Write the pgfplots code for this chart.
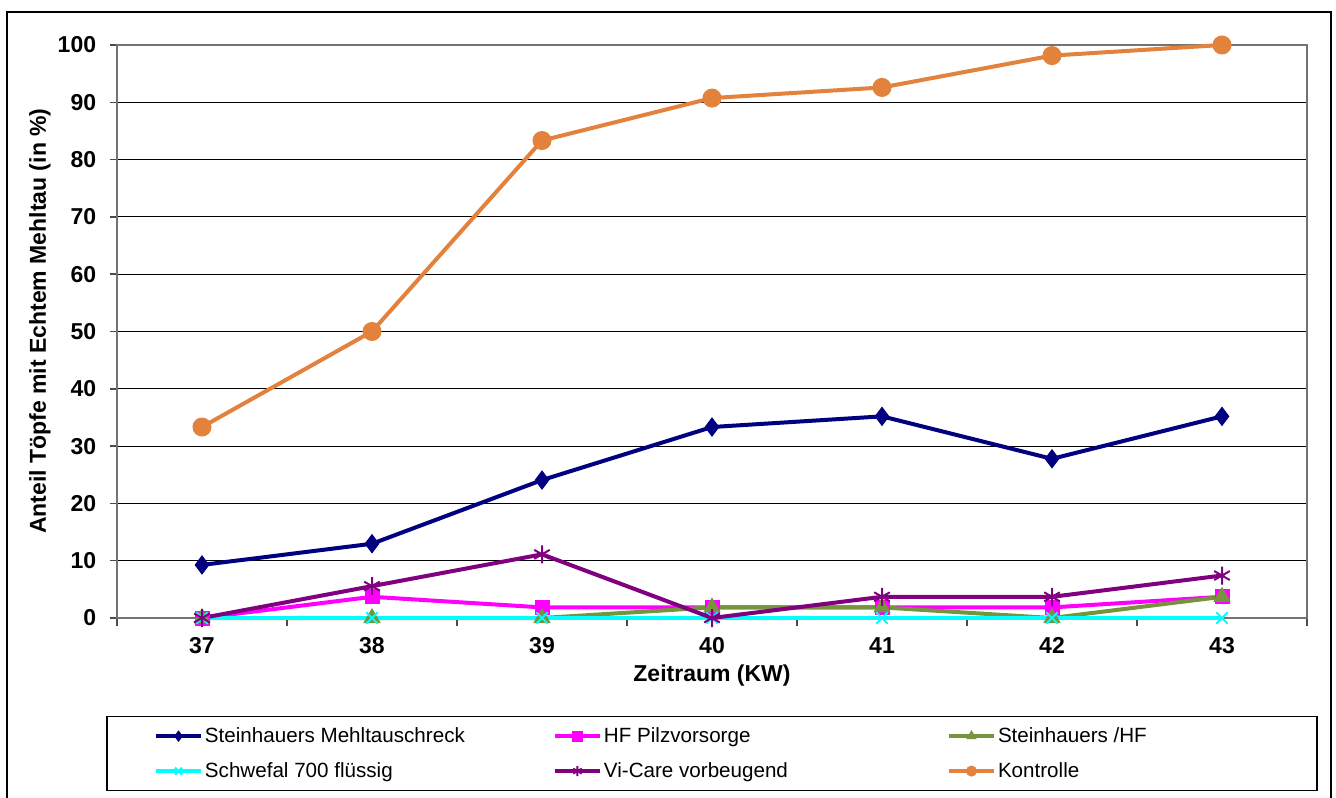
\documentclass[border=0pt]{standalone}
\usepackage{pgfplots}
\pgfplotsset{compat=1.18}
\usepackage{fontspec}
\setmainfont{Liberation Sans}
\definecolor{cNavy}{RGB}{0,0,128}
\definecolor{cMag}{RGB}{255,0,255}
\definecolor{cOlive}{RGB}{119,147,60}
\definecolor{cCyan}{RGB}{0,255,255}
\definecolor{cPurp}{RGB}{128,0,128}
\definecolor{cOrange}{RGB}{227,130,61}
\begin{document}
\begin{tikzpicture}
\useasboundingbox (-58.5pt,-89.5pt) rectangle (609.5pt,309pt);
\fill[white] (-58.5pt,-89.5pt) rectangle (609.5pt,309pt);
\draw[black, line width=0.75pt] (-55pt,-95pt) rectangle (607pt,303pt);
\begin{axis}[
  at={(0,0)}, anchor=south west,
  scale only axis, width=595pt, height=286.5pt,
  xmin=36.5, xmax=43.5, ymin=0, ymax=100,
  xtick={37,...,43},
  minor xtick={36.5,37.5,...,43.5},
  ytick={0,10,...,100},
  every major x tick/.append style={draw=none},
  ymajorgrids, grid style={black, line width=0.5pt},
  axis line style={draw=black!55, line width=0.75pt},
  tick style={draw=black!70, line width=0.75pt},
  major tick length=3.75pt, minor tick length=3.75pt,
  tick pos=left, tick align=outside,
  /pgf/number format/assume math mode=true,
  ticklabel style={font=\bfseries\fontsize{11.5}{13}\selectfont, inner sep=0pt},
  yticklabel style={anchor=east, xshift=-6.5pt},
  xticklabel style={anchor=north, yshift=-6pt},
  xlabel={Zeitraum (KW)},
  ylabel={Anteil Töpfe mit Echtem Mehltau (in \%)},
  label style={font=\bfseries\fontsize{11.5}{13}\selectfont},
  xlabel style={at={(axis description cs:0.5,-0.1012)}, anchor=center},
  ylabel style={at={(axis description cs:-0.0647,0.518)}, anchor=center},
  clip=false,
  every axis plot/.append style={line width=2pt},
  legend columns=3,
  legend image code/.code={\draw[mark repeat=2,mark phase=2,mark size=2.5pt] plot coordinates {(0pt,0pt) (11.25pt,0pt) (22.5pt,0pt)};},
  legend style={at={(0.5,-0.171)}, anchor=north, draw=black, line width=0.6pt,
    inner xsep=23.5pt, inner ysep=1pt, row sep=0pt,
    font=\fontsize{10.3}{12}\selectfont,
    nodes={inner sep=1pt, anchor=west, minimum height=17.5pt},
    /tikz/every even column/.style={column sep=0pt},
    /tikz/every odd column/.style={column sep=0pt}},
]
\addplot[cNavy, mark=diamond*, mark size=4.5pt, mark options={line width=0.5pt}] coordinates {(37,9.26)(38,12.96)(39,24.07)(40,33.33)(41,35.19)(42,27.78)(43,35.19)};
\addlegendentry{\makebox[173pt][l]{Steinhauers Mehltauschreck}}
\addplot[cMag, mark=square*, mark size=3.5pt, mark options={line width=0.5pt}] coordinates {(37,0)(38,3.70)(39,1.85)(40,1.85)(41,1.85)(42,1.85)(43,3.70)};
\addlegendentry{\makebox[170.5pt][l]{HF Pilzvorsorge}}
\addplot[cOlive, mark=triangle*, mark size=4.5pt, mark options={line width=0.5pt}] coordinates {(37,0)(38,0)(39,0)(40,1.85)(41,1.85)(42,0)(43,3.70)};
\addlegendentry{\makebox[135pt][l]{Steinhauers /HF}}
\addplot[cCyan, mark=x, mark size=4pt, mark options={line width=1pt}] coordinates {(37,0)(38,0)(39,0)(40,0)(41,0)(42,0)(43,0)};
\addlegendentry{\makebox[173pt][l]{Schwefal 700 flüssig}}
\addplot[cPurp, mark=asterisk, mark size=4.5pt, mark options={line width=1pt}] coordinates {(37,0)(38,5.56)(39,11.11)(40,0)(41,3.70)(42,3.70)(43,7.41)};
\addlegendentry{\makebox[170.5pt][l]{Vi-Care vorbeugend}}
\addplot[cOrange, mark=*, mark size=4.5pt, mark options={line width=0.5pt}] coordinates {(37,33.33)(38,50)(39,83.33)(40,90.74)(41,92.59)(42,98.15)(43,100)};
\addlegendentry{\makebox[135pt][l]{Kontrolle}}
\end{axis}
\end{tikzpicture}
\end{document}
